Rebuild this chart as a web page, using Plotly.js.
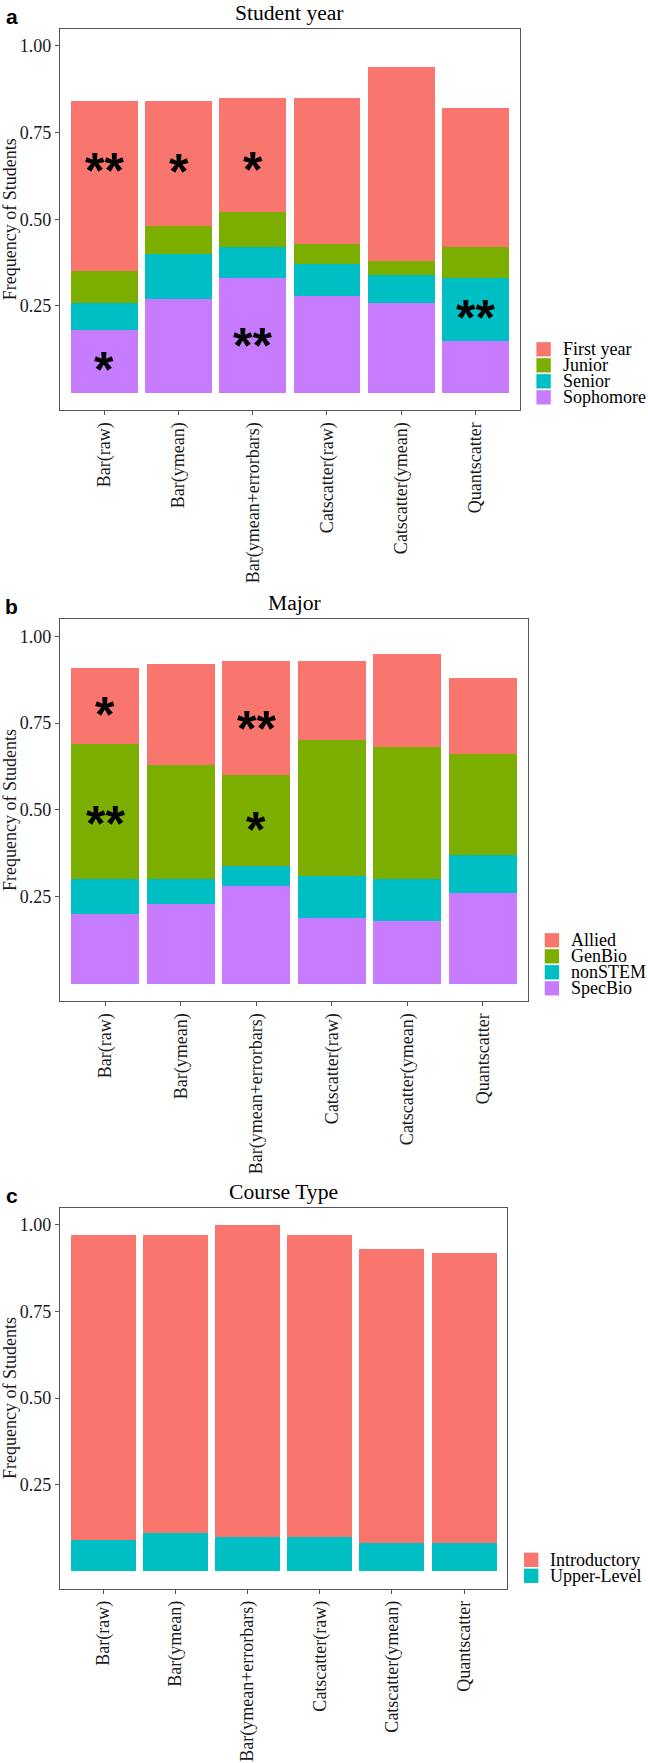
<!DOCTYPE html>
<html>
<head>
<meta charset="utf-8">
<script src="https://cdn.plot.ly/plotly-3.0.1.min.js"></script>
<style>html,body{margin:0;padding:0;background:#fff;}</style>
</head>
<body>
<div id="chart" style="width:648px;height:1763px;"></div>
<script>
// ---------- data ----------
const categories = ["Bar(raw)", "Bar(ymean)", "Bar(ymean+errorbars)", "Catscatter(raw)", "Catscatter(ymean)", "Quantscatter"];

// Panel a: Student year (stack bottom -> top)
const yearSophomore = [0.18, 0.27, 0.33, 0.28, 0.26, 0.15];
const yearSenior    = [0.08, 0.13, 0.09, 0.09, 0.08, 0.18];
const yearJunior    = [0.09, 0.08, 0.10, 0.06, 0.04, 0.09];
const yearFirst     = [0.49, 0.36, 0.33, 0.42, 0.56, 0.40];

// Panel b: Major
const majorSpecBio = [0.20, 0.23, 0.28, 0.19, 0.18, 0.26];
const majorNonSTEM = [0.10, 0.07, 0.06, 0.12, 0.12, 0.11];
const majorGenBio  = [0.39, 0.33, 0.26, 0.39, 0.38, 0.29];
const majorAllied  = [0.22, 0.29, 0.33, 0.23, 0.27, 0.22];

// Panel c: Course type
const courseUpper = [0.09, 0.11, 0.10, 0.10, 0.08, 0.08];
const courseIntro = [0.88, 0.86, 0.90, 0.87, 0.85, 0.84];

// significance marks
const yearStarCats   = ["Bar(raw)", "Bar(raw)", "Bar(ymean)", "Bar(ymean+errorbars)", "Bar(ymean+errorbars)", "Quantscatter"];
const yearStarY      = [0.663, 0.091, 0.66, 0.667, 0.158, 0.241];
const yearStarText   = ["**", "*", "*", "*", "**", "**"];
const majorStarCats  = ["Bar(raw)", "Bar(raw)", "Bar(ymean+errorbars)", "Bar(ymean+errorbars)"];
const majorStarY     = [0.797, 0.483, 0.757, 0.467];
const majorStarText  = ["*", "**", "**", "*"];

const yTickVals = [0.25, 0.5, 0.75, 1.0];
const yTickText = ["0.25", "0.50", "0.75", "1.00"];

// ---------- styling / geometry ----------
const W = 648, H = 1763;
const SERIF = "Liberation Serif, Times New Roman, serif";
const C_RED = "#F8766D", C_GREEN = "#7CAE00", C_CYAN = "#00BFC4", C_PURPLE = "#C77CFF";

const panels = [
  { key: "", L: 59.9, R: 519.8, T: 28.6, B: 410.0, title: "Student year", letter: "a",
    series: [["Sophomore", yearSophomore, C_PURPLE], ["Senior", yearSenior, C_CYAN], ["Junior", yearJunior, C_GREEN], ["First year", yearFirst, C_RED]],
    stars: [yearStarCats, yearStarY, yearStarText] },
  { key: "2", L: 59.9, R: 528.1, T: 618.9, B: 1001.0, title: "Major", letter: "b",
    series: [["SpecBio", majorSpecBio, C_PURPLE], ["nonSTEM", majorNonSTEM, C_CYAN], ["GenBio", majorGenBio, C_GREEN], ["Allied", majorAllied, C_RED]],
    stars: [majorStarCats, majorStarY, majorStarText] },
  { key: "3", L: 59.9, R: 507.4, T: 1207.5, B: 1588.5, title: "Course Type", letter: "c",
    series: [["Upper-Level", courseUpper, C_CYAN], ["Introductory", courseIntro, C_RED]],
    stars: [[], [], []] }
];

const px = x => x / W;
const py = y => 1 - y / H;

const data = [];
const annotations = [];
const shapes = [];
const layout = {
  width: W, height: H,
  margin: { l: 0, r: 0, t: 0, b: 0 },
  paper_bgcolor: "#ffffff", plot_bgcolor: "#ffffff",
  barmode: "stack", bargap: 0.1,
  showlegend: false,
  font: { family: SERIF, size: 18, color: "#1a1a1a" }
};

const STAR_SIZE = 50;

panels.forEach(p => {
  const xa = "x" + p.key, ya = "y" + p.key;
  p.series.forEach(([name, vals, col]) => {
    data.push({
      type: "bar", name: name, x: categories, y: vals,
      xaxis: xa, yaxis: ya,
      marker: { color: col, line: { width: 0 } },
      hoverinfo: "x+y+name"
    });
  });
  layout["xaxis" + p.key] = {
    domain: [px(p.L), px(p.R)], anchor: ya, type: "category",
    categoryorder: "array", categoryarray: categories,
    range: [-0.6, 5.6], tickangle: -90,
    ticks: "outside", ticklen: 4, tickwidth: 1, tickcolor: "#555",
    showline: true, mirror: true, linecolor: "#555", linewidth: 1,
    showgrid: false, zeroline: false,
    tickfont: { family: SERIF, size: 18, color: "#1a1a1a" }
  };
  layout["yaxis" + p.key] = {
    domain: [py(p.B), py(p.T)], anchor: xa,
    range: [-0.05, 1.05], tickvals: yTickVals, ticktext: yTickText,
    ticks: "outside", ticklen: 4, tickwidth: 1, tickcolor: "#555",
    showline: true, mirror: true, linecolor: "#555", linewidth: 1,
    showgrid: false, zeroline: false,
    tickfont: { family: SERIF, size: 18, color: "#1a1a1a" },
    title: { text: "Frequency of Students", font: { family: SERIF, size: 18, color: "#1a1a1a" }, standoff: 3 }
  };
  // panel title
  annotations.push({
    xref: "paper", yref: "paper", x: px((p.L + p.R) / 2), y: py(p.T - 16),
    xanchor: "center", yanchor: "middle", showarrow: false,
    text: p.title, font: { family: SERIF, size: 21.6, color: "#000" }
  });
  // panel letter
  annotations.push({
    xref: "paper", yref: "paper", x: px(11.5), y: py(p.T - 12.4),
    xanchor: "center", yanchor: "middle", showarrow: false,
    text: "<b>" + p.letter + "</b>", font: { family: "Liberation Sans, Arial, sans-serif", size: 21, color: "#000" }
  });
  // significance asterisks
  const [sc, sy, st] = p.stars;
  sc.forEach((c, i) => {
    annotations.push({
      xref: xa, yref: ya, x: c, y: sy[i], xanchor: "center", yanchor: "middle",
      showarrow: false, text: "<b>" + st[i] + "</b>", yshift: -0.17 * STAR_SIZE,
      font: { family: "Liberation Sans, Arial, sans-serif", size: STAR_SIZE, color: "#000" }
    });
  });
  // legend (top -> bottom = reverse of stack order)
  const entries = p.series.slice().reverse();
  const n = entries.length;
  const pitch = 16;
  entries.forEach(([name, vals, col], i) => {
    const rowTop = p.B - 4.7 - (n - i) * pitch;
    shapes.push({
      type: "rect", xref: "paper", yref: "paper",
      x0: px(p.R + 16.6), x1: px(p.R + 31), y0: py(rowTop + 0.85), y1: py(rowTop + 15.15),
      fillcolor: col, line: { width: 0 }
    });
    annotations.push({
      xref: "paper", yref: "paper", x: px(p.R + 41), y: py(rowTop + 8),
      xanchor: "left", yanchor: "middle", showarrow: false,
      text: name, font: { family: SERIF, size: 18, color: "#000" }
    });
  });
});

layout.annotations = annotations;
layout.shapes = shapes;

Plotly.newPlot("chart", data, layout, { staticPlot: true, displayModeBar: false });
</script>
</body>
</html>
